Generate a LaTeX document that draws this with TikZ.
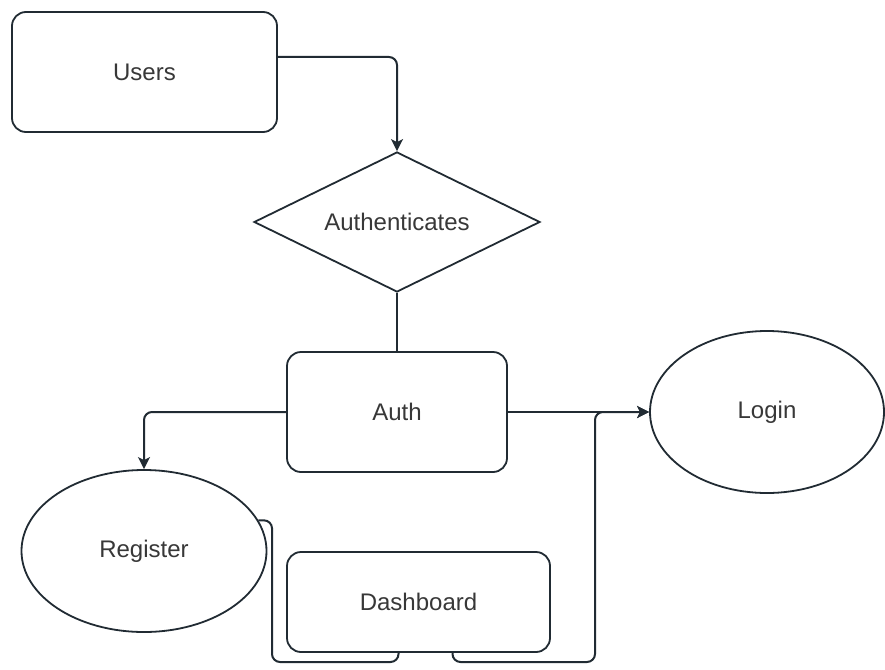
\documentclass[tikz,border=0pt]{standalone}
\usepackage{fontspec}
\setmainfont{Liberation Sans}
\usetikzlibrary{arrows.meta}
\usetikzlibrary{shapes.geometric}

\begin{document}
\begin{tikzpicture}[x=1pt,y=-1pt]
        \definecolor{linegray}{rgb}{0.13, 0.17, 0.20}
        \definecolor{textgray}{rgb}{0.22, 0.22, 0.22}
        \tikzset{
            every node/.style={text=textgray, font=\fontsize{24}{28}\selectfont, line width=1.8pt, draw=linegray, fill=white, inner sep=0pt},
            roundbox/.style={rectangle, rounded corners=14pt},
            decision/.style={diamond, aspect=2},
            oval/.style={ellipse},
            link/.style={draw=linegray, line width=2pt, rounded corners=8pt},
            linkarrow/.style={link, -{Stealth[length=12pt,width=12pt,inset=3pt]}}
        }
        \useasboundingbox (0,0) rectangle (885,669);

        % nodes
        \node[roundbox, minimum width=265, minimum height=120] (users) at (144.5,72) {Users};
        \node[decision, minimum width=286, minimum height=140] (authn) at (397,222) {Authenticates};
        \node[roundbox, minimum width=220, minimum height=120] (auth) at (397,412) {Auth};
        \node[oval, minimum width=234, minimum height=162] (login) at (767,412) {Login};
        \node[oval, minimum width=245, minimum height=162] (register) at (144,551) {Register};
        \node[roundbox, minimum width=263, minimum height=100] (dash) at (418.5,602) {Dashboard};

        % bends below the dashboard
        \coordinate (lowL) at (272,662);
        \coordinate (lowR) at (595,662);

        % connectors
        \draw[linkarrow] ([yshift=15pt]users.east) -| (authn.north);
        \draw[link] (authn.south) -- (auth.north);
        \draw[linkarrow] (auth.west) -| (register.north);
        \draw[linkarrow] (auth.east) -- (login.west);
        \draw[link] (register.15) -| (lowL) -| ([xshift=-20pt]dash.south);
        \draw[linkarrow] ([xshift=34pt]dash.south) |- (lowR) |- (login.west);
        %\draw[red!40] (register.north) circle (2);
\end{tikzpicture}
\end{document}
